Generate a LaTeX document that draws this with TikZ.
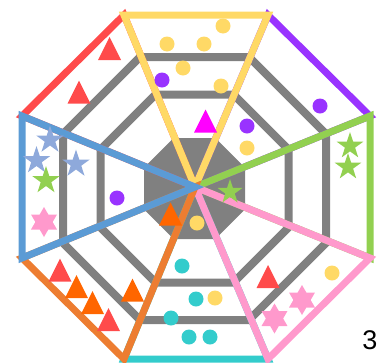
\documentclass[tikz,border=0pt]{standalone}
\usepackage{fontspec}
\newfontfamily\lsans{Liberation Sans}
\definecolor{cYel}{HTML}{FFD966}
\definecolor{cPur}{HTML}{9933FF}
\definecolor{cMag}{HTML}{FF00FF}
\definecolor{cGrn}{HTML}{92D050}
\definecolor{cPnk}{HTML}{FF99CC}
\definecolor{cCyn}{HTML}{33CCCC}
\definecolor{cOrL}{HTML}{ED7D31}
\definecolor{cOrg}{HTML}{FF6600}
\definecolor{cRed}{HTML}{FF4B4B}
\definecolor{cBlu}{HTML}{5B9BD5}
\definecolor{cBst}{HTML}{8EA9DB}
\definecolor{cGry}{HTML}{808080}
\newcommand\octpath[1]{({0.41421*#1},{-#1}) -- ({#1},{-0.41421*#1}) -- ({#1},{0.41421*#1}) -- ({0.41421*#1},{#1}) -- ({-0.41421*#1},{#1}) -- ({-#1},{0.41421*#1}) -- ({-#1},{-0.41421*#1}) -- ({-0.41421*#1},{-#1}) -- cycle}
\newcommand\dotm[3]{\fill[#1] (#2,#3) circle (7.5);}
\newcommand\trim[3]{\fill[#1,shift={(#2,#3)}] (-11.5,11.5) -- (11.5,11.5) -- (0,-11.5) -- cycle;}
\newcommand\starm[4]{\fill[#1,shift={(#2,#3)}] (-90:#4) \foreach \k in {1,...,9}{ -- ({-90+36*\k}:{#4*(1-0.618*mod(\k,2))})} -- cycle;}
\newcommand\hexm[4]{\fill[#1,shift={(#2,#3)}] (-90:#4) \foreach \k in {1,...,11}{ -- ({-90+30*\k}:{#4*(1-0.4226*mod(\k,2))})} -- cycle;}
\begin{document}
\begin{tikzpicture}[x=1pt,y=-1pt,line join=miter,
  ring/.style={draw=cGry,line width=8},
  sector/.style={line width=7}]
\useasboundingbox (0,0) rectangle (385,362);
% gray web
\begin{scope}[shift={(194.5,188.5)}]
\fill[cGry] \octpath{50.5};
\path[ring] \octpath{94};
\path[ring] \octpath{131.5};
\end{scope}
% corners
\coordinate (C) at (195,187);
\coordinate (V1) at (124,15);
\coordinate (V2) at (268,15);
\coordinate (V3) at (370,116);
\coordinate (V4) at (370,258);
\coordinate (V5) at (268,359);
\coordinate (V6) at (124,359);
\coordinate (V7) at (22,258);
\coordinate (V8) at (22,116);
% sectors
\draw[sector,cRed] (V8) -- (V1) -- (C) -- cycle;
\draw[sector,cPur] (V2) -- (V3) -- (C) -- cycle;
\draw[sector,cCyn] (V5) -- (V6) -- (C) -- cycle;
\draw[sector,cYel] (V1) -- (V2) -- (C) -- cycle;
\draw[sector,cGrn] (V3) -- (V4) -- (C) -- cycle;
\draw[sector,cPnk] (V4) -- (V5) -- (C) -- cycle;
\draw[sector,cOrL] (V6) -- (V7) -- (C) -- cycle;
\draw[sector,cBlu] (V7) -- (V8) -- (C) -- cycle;
% markers: dots
\dotm{cYel}{223}{26}
\dotm{cYel}{167}{44}
\dotm{cYel}{204}{44}
\dotm{cYel}{183}{68}
\dotm{cYel}{221}{86}
\dotm{cYel}{247}{148}
\dotm{cYel}{215}{298}
\dotm{cYel}{197}{223}
\dotm{cYel}{332}{273}
\dotm{cPur}{162}{80}
\dotm{cPur}{320}{106}
\dotm{cPur}{247}{126}
\dotm{cPur}{117}{198}
\dotm{cCyn}{182}{266}
\dotm{cCyn}{196}{299}
\dotm{cCyn}{171}{318}
\dotm{cCyn}{189}{337}
\dotm{cCyn}{210}{337}
% triangles
\trim{cRed}{109.5}{48.5}
\trim{cRed}{79}{92}
\trim{cMag}{205.5}{121}
\trim{cOrg}{170.5}{214}
\trim{cRed}{60}{270}
\trim{cOrg}{76.5}{286.5}
\trim{cOrg}{92.5}{302.5}
\trim{cRed}{108.5}{319.5}
\trim{cOrg}{132.5}{290}
\trim{cRed}{268}{276.5}
% stars
\starm{cBst}{50}{140}{14.5}
\starm{cBst}{36.5}{160.5}{14.5}
\starm{cBst}{76}{164}{14.5}
\starm{cGrn}{46}{180.5}{14.5}
\starm{cGrn}{350}{146}{14}
\starm{cGrn}{348}{167}{14}
\starm{cGrn}{230}{192}{13}
\hexm{cPnk}{44}{222}{15}
\hexm{cPnk}{302}{300}{15}
\hexm{cPnk}{274.5}{318.5}{15}
% label
\node[font=\lsans\fontsize{27}{27}\selectfont,inner sep=0] (lbl) at (370,340.5) {3};
\end{tikzpicture}
\end{document}
